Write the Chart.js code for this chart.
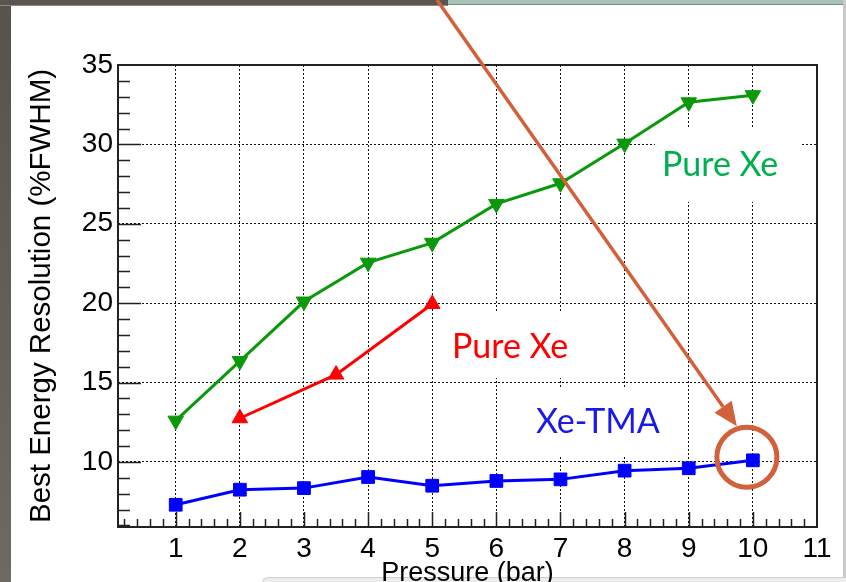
<!DOCTYPE html>
<html>
<head>
<meta charset="utf-8">
<script src="https://cdn.jsdelivr.net/npm/chart.js@4.4.1/dist/chart.umd.min.js"></script>
<style>
  html, body { margin: 0; padding: 0; background: #fff; overflow: hidden; }
  #wrap { position: relative; width: 846px; height: 582px; background: #fff; }
  .deco { position: absolute; }
  canvas { position: absolute; left: 0; top: 0; }
</style>
</head>
<body>
<div id="wrap">
  <!-- slide frame around the plot -->
  <div class="deco" style="left:0;top:0;width:11px;height:582px;background:linear-gradient(#57524c,#6d6963);"></div>
  <div class="deco" style="left:0;top:0;width:448px;height:5px;background:#5a554f;border-bottom:1px solid #8d8983;"></div>
  <div class="deco" style="left:448px;top:0;width:395px;height:4px;background:#a9c2b8;border-bottom:1px solid #7b8a84;"></div>
  <div class="deco" style="left:843px;top:0;width:3px;height:582px;background:#c9c9c9;"></div>
  <div class="deco" style="left:262px;top:577px;width:600px;height:20px;background:#ececec;border-top:1px solid #cfcfcf;border-left:1px solid #cfcfcf;border-top-left-radius:6px;"></div>
  <canvas id="c" width="846" height="582"></canvas>
</div>
<script>
// Pressure scan of the best energy resolution
const pressure = [1, 2, 3, 4, 5, 6, 7, 8, 9, 10];
const pureXeScan = [12.6, 16.35, 20.1, 22.55, 23.8, 26.25, 27.55, 30.05, 32.65, 33.1];
const pureXeShortPressure = [2, 3.5, 5];
const pureXeShort = [12.75, 15.5, 19.95];
const xeTma = [7.3, 8.25, 8.35, 9.05, 8.5, 8.8, 8.9, 9.45, 9.6, 10.1];

const xTickValues = [1, 2, 3, 4, 5, 6, 7, 8, 9, 10, 11];
const yTickValues = [10, 15, 20, 25, 30, 35];

const xTitle = 'Pressure (bar)';
const yTitle = 'Best Energy Resolution (%FWHM)';

const annotations = [
  { text: 'Pure Xe', color: '#00b050', x: 662, y: 176, box: [655, 128, 147, 74] },
  { text: 'Pure Xe', color: '#ff0000', x: 452, y: 358, box: [440, 311, 140, 67] },
  { text: 'Xe-TMA', color: '#1a1ae6', x: 536, y: 433, box: [525, 387, 150, 68] }
];

const toPoints = (xs, ys) => xs.map((x, i) => ({ x: x, y: ys[i] }));

const rootFrame = {
  id: 'rootFrame',
  beforeDatasetsDraw(chart) {
    // white boxes behind the text labels hide the grid there
    const ctx = chart.ctx;
    ctx.save();
    ctx.fillStyle = '#ffffff';
    annotations.forEach(a => ctx.fillRect(a.box[0], a.box[1], a.box[2], a.box[3]));
    ctx.restore();
  },
  afterDatasetsDraw(chart) {
    const ctx = chart.ctx;
    const { left, right, top, bottom } = chart.chartArea;
    const xs = chart.scales.x, ys = chart.scales.y;
    ctx.save();
    ctx.strokeStyle = '#222';
    ctx.lineWidth = 1.5;
    ctx.beginPath();
    // inward ticks on the left axis
    for (let v = 6; v <= 34; v++) {
      const y = Math.round(ys.getPixelForValue(v)) + 0.5;
      const len = v % 5 === 0 ? 23 : 12;
      ctx.moveTo(left, y);
      ctx.lineTo(left + len, y);
    }
    // inward ticks on the bottom axis
    for (let k = 1; k <= 54; k++) {
      const x = Math.round(xs.getPixelForValue(k / 5)) + 0.5;
      const len = k % 5 === 0 ? 15 : 8;
      ctx.moveTo(x, bottom);
      ctx.lineTo(x, bottom - len);
    }
    ctx.stroke();
    ctx.lineWidth = 2;
    ctx.strokeRect(left, top, right - left, bottom - top);
    ctx.restore();
  },
  afterDraw(chart) {
    const ctx = chart.ctx;
    const xs = chart.scales.x, ys = chart.scales.y;
    ctx.save();
    ctx.font = '34px Lato, "Open Sans", sans-serif';
    ctx.textBaseline = 'alphabetic';
    ctx.textAlign = 'left';
    annotations.forEach(a => {
      ctx.fillStyle = a.color;
      ctx.fillText(a.text, a.x, a.y);
    });

    // highlight ring around the 10 bar Xe-TMA point
    const cx = xs.getPixelForValue(pressure[9]) - 6;
    const cy = ys.getPixelForValue(xeTma[9]) - 3;
    const orange = '#d2603a';
    ctx.strokeStyle = orange;
    ctx.fillStyle = orange;
    ctx.lineWidth = 5;
    ctx.beginPath();
    ctx.arc(cx, cy, 30, 0, Math.PI * 2);
    ctx.stroke();

    // pointer arrow coming from the top of the slide
    const sx = 437, sy = 0;
    const tx = cx - 10, ty = cy - 31;
    const ang = Math.atan2(ty - sy, tx - sx);
    const headLen = 24, headHalf = 10.5;
    const bx = tx - Math.cos(ang) * headLen, by = ty - Math.sin(ang) * headLen;
    ctx.lineWidth = 3.5;
    ctx.beginPath();
    ctx.moveTo(sx, sy);
    ctx.lineTo(bx, by);
    ctx.stroke();
    ctx.beginPath();
    ctx.moveTo(tx, ty);
    ctx.lineTo(bx + Math.sin(ang) * headHalf, by - Math.cos(ang) * headHalf);
    ctx.lineTo(bx - Math.sin(ang) * headHalf, by + Math.cos(ang) * headHalf);
    ctx.closePath();
    ctx.fill();
    ctx.restore();
  }
};

const gridColor = ctx => '#111';

new Chart(document.getElementById('c'), {
  type: 'line',
  data: {
    datasets: [
      {
        label: 'Pure Xe',
        data: toPoints(pressure, pureXeScan),
        borderColor: '#0a990a',
        backgroundColor: '#0a990a',
        borderWidth: 3,
        pointStyle: 'triangle',
        rotation: 180,
        pointRadius: 9,
        pointBorderWidth: 1,
        tension: 0
      },
      {
        label: 'Pure Xe',
        data: toPoints(pureXeShortPressure, pureXeShort),
        borderColor: '#ff0000',
        backgroundColor: '#ff0000',
        borderWidth: 3,
        pointStyle: 'triangle',
        pointRadius: 9,
        pointBorderWidth: 1,
        tension: 0
      },
      {
        label: 'Xe-TMA',
        data: toPoints(pressure, xeTma),
        borderColor: '#0000ff',
        backgroundColor: '#0000ff',
        borderWidth: 3,
        pointStyle: 'rect',
        pointRadius: 9,
        pointBorderWidth: 1,
        tension: 0
      }
    ]
  },
  options: {
    responsive: false,
    devicePixelRatio: 1,
    animation: false,
    events: [],
    layout: { padding: { top: 65, right: 29, left: 0, bottom: 0 } },
    plugins: { legend: { display: false }, tooltip: { enabled: false } },
    scales: {
      x: {
        type: 'linear',
        min: 0.1,
        max: 11,
        afterBuildTicks: s => { s.ticks = xTickValues.map(v => ({ value: v })); },
        afterFit: s => { s.height = 55; },
        grid: { color: gridColor, lineWidth: 1, drawTicks: false },
        border: { display: false, dash: [2, 2] },
        ticks: {
          color: '#000',
          padding: 5,
          maxRotation: 0,
          autoSkip: false,
          font: { family: '"Liberation Sans", Arial, sans-serif', size: 28 }
        },
        title: {
          display: true,
          text: xTitle,
          color: '#000',
          padding: 0,
          font: { family: '"Liberation Sans", Arial, sans-serif', size: 27, lineHeight: 0.65 }
        }
      },
      y: {
        type: 'linear',
        min: 5.9,
        max: 35,
        afterBuildTicks: s => { s.ticks = yTickValues.map(v => ({ value: v })); },
        afterFit: s => { s.width = 118; },
        grid: { color: gridColor, lineWidth: 1, drawTicks: false },
        border: { display: false, dash: [2, 2] },
        ticks: {
          color: '#000',
          padding: 5,
          autoSkip: false,
          font: { family: '"Liberation Sans", Arial, sans-serif', size: 28 }
        },
        title: {
          display: true,
          text: yTitle,
          color: '#000',
          padding: { top: 24, bottom: 0 },
          font: { family: '"Liberation Sans", Arial, sans-serif', size: 29.5, lineHeight: 1.2 }
        }
      }
    }
  },
  plugins: [rootFrame]
});
</script>
</body>
</html>
